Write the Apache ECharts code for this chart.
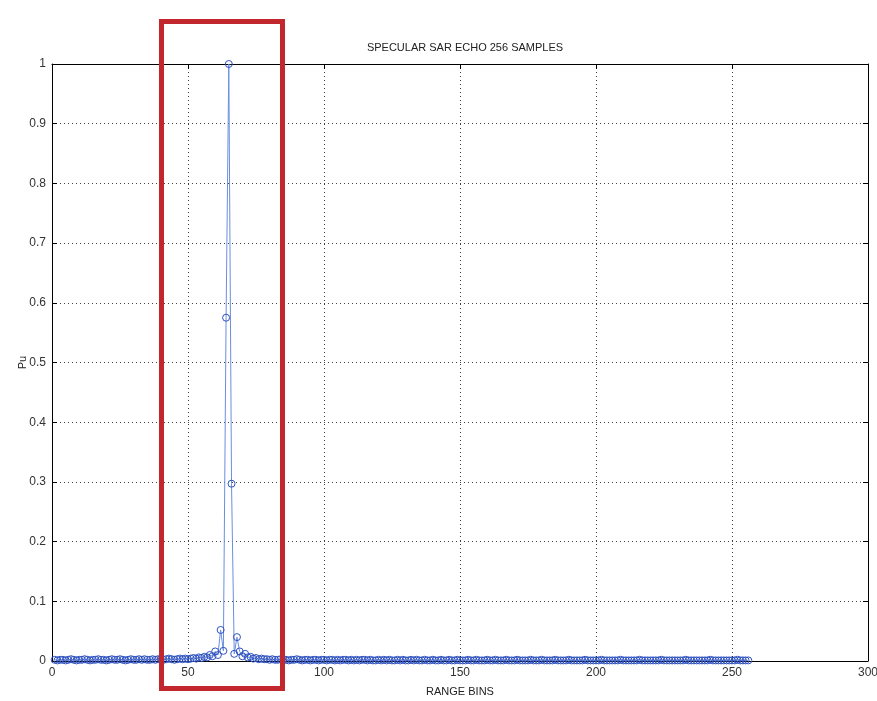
<!DOCTYPE html>
<html>
<head>
<meta charset="utf-8">
<script src="https://cdn.jsdelivr.net/npm/echarts@6/dist/echarts.min.js"></script>
<style>html,body{margin:0;padding:0;background:#fff}#c{width:877px;height:701px}</style>
</head>
<body>
<div id="c"></div>
<script>
var title = 'SPECULAR SAR ECHO 256 SAMPLES';
var xName = 'RANGE BINS';
var yName = 'Pu';
var xTicks = [0, 50, 100, 150, 200, 250, 300];
var yTicks = [0, 0.1, 0.2, 0.3, 0.4, 0.5, 0.6, 0.7, 0.8, 0.9, 1];
var echo = [
 0.002,0.001,0.002,0.002,0.001,0.002,0.003,0.002,0.001,0.002,0.002,0.003,0.002,0.001,0.002,0.002,
 0.003,0.002,0.002,0.001,0.002,0.003,0.002,0.002,0.003,0.002,0.001,0.002,0.003,0.002,0.002,0.003,
 0.002,0.003,0.002,0.002,0.003,0.002,0.003,0.003,0.002,0.003,0.004,0.003,0.002,0.003,0.004,0.003,
 0.004,0.003,0.004,0.005,0.004,0.006,0.005,0.007,0.006,0.010,0.008,0.016,0.010,0.052,0.017,0.575,
 1.000,0.297,0.012,0.040,0.016,0.008,0.012,0.006,0.007,0.004,0.005,0.003,0.004,0.003,0.003,0.002,
 0.003,0.002,0.002,0.003,0.002,0.002,0.001,0.002,0.002,0.003,0.002,0.001,0.002,0.002,0.001,0.002,
 0.002,0.001,0.002,0.002,0.001,0.002,0.002,0.001,0.002,0.001,0.002,0.002,0.001,0.002,0.001,0.002,
 0.001,0.002,0.002,0.001,0.002,0.001,0.001,0.002,0.001,0.002,0.001,0.002,0.001,0.001,0.002,0.001,
 0.002,0.001,0.001,0.002,0.001,0.002,0.001,0.001,0.002,0.001,0.001,0.002,0.001,0.001,0.002,0.001,
 0.001,0.002,0.001,0.001,0.002,0.001,0.001,0.001,0.002,0.001,0.001,0.002,0.001,0.001,0.001,0.002,
 0.001,0.001,0.002,0.001,0.001,0.001,0.002,0.001,0.001,0.001,0.002,0.001,0.001,0.001,0.001,0.002,
 0.001,0.001,0.001,0.002,0.001,0.001,0.001,0.001,0.002,0.001,0.001,0.001,0.001,0.002,0.001,0.001,
 0.001,0.001,0.001,0.002,0.001,0.001,0.001,0.001,0.001,0.002,0.001,0.001,0.001,0.001,0.001,0.001,
 0.002,0.001,0.001,0.001,0.001,0.001,0.001,0.002,0.001,0.001,0.001,0.001,0.001,0.001,0.001,0.002,
 0.001,0.001,0.001,0.001,0.001,0.001,0.001,0.001,0.002,0.001,0.001,0.001,0.001,0.001,0.001,0.001,
 0.001,0.002,0.001,0.001,0.001,0.001,0.001,0.001,0.001,0.001,0.001,0.002,0.001,0.001,0.001,0.001
];
var bins = echo.map(function (v, i) { return i + 1; });
var points = echo.map(function (v, i) { return [bins[i], v]; });

var chart = echarts.init(document.getElementById('c'), null, {renderer: 'canvas'});
var font = "'Liberation Sans', Arial, sans-serif";
var axisBase = {
  axisLine: {show: true, onZero: false, lineStyle: {color: '#000', width: 1}},
  axisTick: {show: true, inside: true, length: 5, lineStyle: {color: '#000'}},
  axisLabel: {color: '#333', fontFamily: font, fontSize: 12},
};
chart.setOption({
  animation: false,
  backgroundColor: '#fff',
  title: {text: title, left: 460, textAlign: 'center', top: 37, textStyle: {fontFamily: font, fontSize: 11, fontWeight: 'normal', color: '#222'}},
  grid: {left: 52, right: 9, top: 64, bottom: 40, show: false, outerBoundsMode: 'none', containLabel: false},
  xAxis: [Object.assign({}, axisBase, {
    type: 'value', min: 0, max: 300, interval: 50, position: 'bottom',
    name: xName, nameLocation: 'middle', nameGap: 25, nameMoveOverlap: false,
    nameTextStyle: {fontFamily: font, fontSize: 11, color: '#222'},
    axisLabel: {color: '#333', fontFamily: font, fontSize: 12, margin: 6},
    splitLine: {show: true, lineStyle: {type: [1, 3], color: '#444', width: 1}}
  }), Object.assign({}, axisBase, {
    type: 'value', min: 0, max: 300, interval: 50, position: 'top',
    axisLabel: {show: false}, splitLine: {show: false}
  })],
  yAxis: [Object.assign({}, axisBase, {
    type: 'value', min: 0, max: 1, interval: 0.1, position: 'left',
    name: yName, nameLocation: 'middle', nameGap: 24, nameMoveOverlap: false,
    nameTextStyle: {fontFamily: font, fontSize: 11, color: '#222'},
    axisLabel: {color: '#333', fontFamily: font, fontSize: 12, margin: 6},
    splitLine: {show: true, lineStyle: {type: [1, 3], color: '#444', width: 1}}
  }), Object.assign({}, axisBase, {
    type: 'value', min: 0, max: 1, interval: 0.1, position: 'right',
    axisLabel: {show: false}, splitLine: {show: false}
  })],
  series: [{
    type: 'line',
    data: points,
    xAxisIndex: 0, yAxisIndex: 0,
    symbol: 'circle', symbolSize: 7, showSymbol: true,
    lineStyle: {color: '#6a8ee0', width: 1},
    itemStyle: {color: 'rgba(0,0,0,0)', borderColor: '#2f52c0', borderWidth: 1},
    emphasis: {disabled: true},
    z: 3
  }],
  graphic: [{
    type: 'rect',
    shape: {x: 161.5, y: 21.5, width: 121, height: 667},
    style: {fill: 'none', stroke: '#c1272d', lineWidth: 5},
    z: 100
  }]
});
</script>
</body>
</html>
